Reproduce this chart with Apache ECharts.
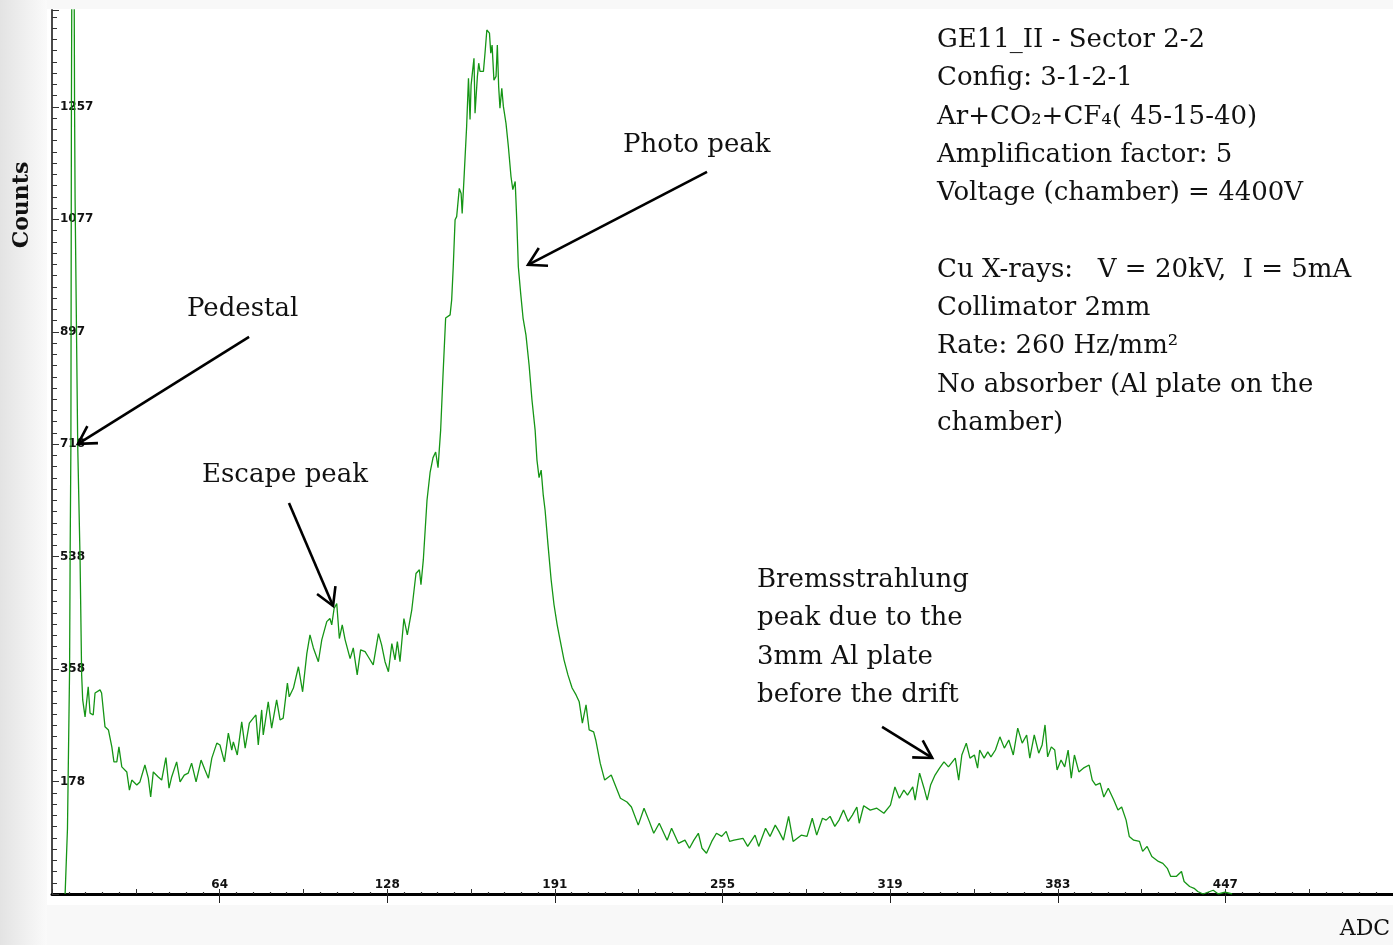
<!DOCTYPE html>
<html>
<head>
<meta charset="utf-8">
<script src="https://cdn.jsdelivr.net/npm/echarts@6/dist/echarts.min.js"></script>
<style>
  html, body { margin: 0; padding: 0; background: #fff; }
  #chart { width: 1393px; height: 945px; }
</style>
</head>
<body>
<div id="chart"></div>
<script>
// ADC spectrum: channel (ADC) and counts
const adc = [
  5.0, 5.9, 6.7, 6.9, 7.2, 7.4, 7.6, 8.4, 8.6, 8.8, 9.8, 10.7, 11.3, 11.7,
  12.6, 13.8, 14.5, 15.7, 16.4, 18.3, 18.9, 20.2, 21.5, 22.8, 23.6, 24.7, 25.5, 26.6, 28.5, 29.5,
  30.4, 32.3, 33.5, 35.4, 36.7, 37.6, 38.6, 40.5, 41.8, 43.4, 44.6, 45.6, 47.5, 48.8, 50.4, 51.9,
  53.2, 54.9, 56.8, 58.3, 59.6, 60.9, 62.8, 64.0, 65.7, 67.2, 68.5, 69.1, 70.6, 72.3, 73.6, 75.2,
  76.7, 77.7, 78.6, 79.9, 80.5, 82.4, 83.7, 85.6, 86.9, 88.1, 89.7, 90.4, 92.0, 93.9, 95.5, 97.1,
  98.3, 99.6, 101.5, 102.8, 104.7, 105.9, 106.6, 107.5, 108.5, 109.5, 110.6, 111.7, 113.6, 114.8,
  116.3, 117.6, 119.3, 120.5, 122.4, 124.4, 125.6, 126.9, 128.2, 129.5, 130.7, 131.6, 132.6, 134.1,
  135.4, 137.1, 138.7, 140.0, 140.6, 141.5,
  142.9, 144.1, 145.2, 146.2, 147.1, 148.1, 149.0, 150.0,
  151.7, 152.3, 152.9, 153.6, 154.2, 155.2, 155.9, 156.3, 156.7, 157.1, 158.0, 158.7, 159.3, 159.7,
  160.3, 160.8, 161.2, 162.1, 162.6, 163.1, 164.4, 165.0, 165.7, 166.7, 167.2, 167.7, 168.4, 169.2,
  169.7, 170.2, 170.7, 171.4, 172.0, 173.0, 173.9, 174.9, 175.6, 176.5, 177.1, 177.7, 178.6, 179.5,
  180.6, 181.8, 182.9, 184.1, 184.8, 185.6, 186.4, 187.2, 187.9, 189.0, 190.2, 191.3, 192.5, 193.6,
  195.1, 196.6, 198.2, 199.7, 200.9,
  202.1, 203.5, 204.7, 206.4, 207.2, 208.9, 210.6, 213.1, 214.9, 216.6, 219.1, 220.8, 223.4, 225.6,
  227.6, 229.3, 231.4, 234.4, 236.1, 238.7, 241.2, 242.9, 244.6, 246.3, 247.7, 249.4, 251.4, 253.2,
  255.2, 256.9, 258.2, 259.9, 263.3, 265.1, 267.9, 269.3, 271.9, 273.6, 275.6, 277.0, 278.7, 280.7,
  282.4, 285.5, 287.7, 289.7, 291.4, 293.6, 295.0, 296.5, 298.3, 299.9, 301.6, 303.4, 305.0, 306.7,
  307.6, 309.3, 311.8, 314.3, 317.0, 319.5, 321.2, 322.9, 324.6, 326.0, 328.0, 328.9, 330.6, 332.3,
  333.5, 334.8, 336.5, 338.2, 339.9, 341.6, 344.2, 345.5, 346.7, 348.4, 349.8, 351.5, 352.7, 353.5,
  355.2, 356.6, 357.8, 359.5, 361.2, 362.9, 364.6, 366.3, 368.0, 369.7, 371.4, 372.6, 374.3, 376.0,
  377.3, 378.4, 379.4, 380.8, 382.1, 383.0, 384.5, 385.9, 387.2, 388.4, 389.6, 391.3, 393.0, 395.2,
  396.4, 397.7, 399.4, 400.8, 402.5, 404.6, 406.2, 407.6, 409.3, 410.5, 412.2, 414.4, 415.6, 417.3,
  419.1, 421.6, 423.3, 425.0, 426.3, 428.4, 430.4, 431.4, 433.5, 435.2, 436.6, 438.6, 442.5, 444.4,
  447.0, 449.7
];
const counts = [
  0, 105, 358, 534, 716, 1257, 1510, 1510, 1257, 1109, 716, 534, 350, 310,
  283, 331, 289, 286, 321, 326, 321, 267, 262, 235, 211, 211, 235, 203, 195, 166,
  182, 174, 179, 206, 185, 155, 195, 187, 182, 218, 169, 187, 211, 179, 190, 193,
  209, 179, 214, 198, 185, 217, 241, 238, 211, 257, 230, 243, 222, 275, 233, 273,
  281, 286, 238, 294, 254, 307, 265, 310, 278, 281, 337, 315, 329, 363, 323, 384,
  414, 393, 371, 406, 435, 440, 430, 456, 464, 408, 430, 406, 376, 393,
  350, 390, 387, 379, 366, 416, 398, 371, 355, 400, 374, 403, 371, 440,
  414, 454, 512, 518, 494, 534,
  629, 674, 697, 706, 681, 741, 829, 920,
  925, 949, 1002, 1077, 1082, 1127, 1119, 1087, 1085, 1151, 1226, 1303, 1237, 1292,
  1316, 1335, 1247, 1306, 1327, 1314, 1314, 1343, 1380, 1375, 1343, 1356, 1300, 1306,
  1356, 1290, 1255, 1287, 1258, 1231, 1194, 1146, 1125, 1138, 1077, 1002, 959, 920,
  893, 845, 789, 741, 693, 665, 677, 637, 613, 558, 502, 462, 430, 406,
  374, 350, 329, 318, 307,
  273, 302, 262, 259, 246, 209, 182, 190, 171, 153, 147, 139, 110, 137,
  116, 97, 113, 86, 105, 81, 86, 73, 86, 97, 73, 65, 84, 97,
  92, 100, 84, 86, 89, 76, 94, 76, 105, 92, 110, 100, 86, 124,
  84, 94, 92, 121, 94, 121, 118, 124, 108, 118, 134, 116, 126, 139,
  113, 141, 134, 137, 129, 142, 171, 153, 166, 158, 171, 150, 193, 169,
  150, 174, 190, 201, 211, 203, 217, 182, 222, 241, 217, 222, 201, 230,
  217, 227, 219, 230, 251, 233, 246, 222, 265, 241, 254, 217, 254, 225,
  238, 270, 219, 235, 230, 198, 214, 203, 230, 185, 222, 195, 201, 206,
  182, 174, 177, 155, 169, 150, 134, 139, 118, 92, 86, 84, 68, 76,
  60, 52, 49, 41, 28, 28, 36, 20, 12, 9, 4, 0, 6, 0,
  3, 0
];

// Axis tick labels (ticks split the 0-511 ADC range into 8, and the counts axis every ~179.6)
const xTickLabels = ['', '64', '128', '191', '255', '319', '383', '447', ''];
const yTickLabels = ['', '178', '358', '538', '718', '897', '1077', '1257', ''];

const X_MAX = 511;
const X_STEP = X_MAX / 8;
const Y_STEP = 179.6;
const Y_MAX = 1412;

const infoLines = [
  'GE11_II - Sector 2-2',
  'Config: 3-1-2-1',
  'Ar+CO\u2082+CF\u2084( 45-15-40)',
  'Amplification factor: 5',
  'Voltage (chamber) = 4400V',
  '',
  'Cu X-rays:   V = 20kV,  I = 5mA',
  'Collimator 2mm',
  'Rate: 260 Hz/mm\u00b2',
  'No absorber (Al plate on the',
  'chamber)'
];
const bremsLines = ['Bremsstrahlung', 'peak due to the', '3mm Al plate', 'before the drift'];

const SERIF = '"DejaVu Serif", "Liberation Serif", serif';
const TICK_FONT = '"DejaVu Sans", "Liberation Sans", Arial, sans-serif';

const chart = echarts.init(document.getElementById('chart'), null, { renderer: 'canvas' });

const seriesData = adc.map((a, i) => [a, counts[i]]);

chart.setOption({
  backgroundColor: '#ffffff',
  animation: false,
  grid: { left: 52, right: 0, top: 10, bottom: 51, containLabel: false },
  xAxis: [
    {
      type: 'value', min: 0, max: X_MAX, interval: X_STEP,
      position: 'bottom', offset: 0,
      axisLine: { show: true, onZero: false, lineStyle: { color: '#000', width: 3 } },
      axisTick: { show: true, inside: false, length: 9, lineStyle: { color: '#222', width: 1 } },
      axisLabel: {
        show: true, inside: true, margin: 3,
        color: '#111', fontFamily: TICK_FONT, fontWeight: 'bold', fontSize: 12,
        showMinLabel: false, showMaxLabel: false,
        formatter: v => xTickLabels[Math.round(v / X_STEP)] || ''
      },
      splitLine: { show: false }
    },
    {
      // ruler-style half ticks and dots hanging under the axis
      type: 'value', min: 0, max: X_MAX, interval: X_STEP / 2,
      position: 'bottom', offset: 9,
      axisLine: { show: false },
      axisTick: { show: true, inside: true, length: 5, lineStyle: { color: '#333', width: 1 } },
      minorTick: { show: true, splitNumber: 5, length: 2, lineStyle: { color: '#333', width: 1.2 } },
      axisLabel: { show: false },
      splitLine: { show: false }
    }
  ],
  yAxis: {
    type: 'value', min: 0, max: Y_MAX, interval: Y_STEP,
    axisLine: { show: true, onZero: false, lineStyle: { color: '#4a4a4a', width: 2 } },
    axisTick: { show: true, inside: true, length: 7, lineStyle: { color: '#333', width: 1 } },
    minorTick: { show: true, splitNumber: 10, length: 5, lineStyle: { color: '#333', width: 1 } },
    axisLabel: {
      show: true, inside: true, margin: 8,
      color: '#111', fontFamily: TICK_FONT, fontWeight: 'bold', fontSize: 12,
      showMinLabel: false, showMaxLabel: false,
      formatter: v => yTickLabels[Math.round(v / Y_STEP)] || ''
    },
    splitLine: { show: false }
  },
  series: [{
    type: 'line',
    data: seriesData,
    showSymbol: false,
    symbol: 'none',
    clip: true,
    lineStyle: { color: '#159515', width: 1.3 },
    z: 3
  }]
});

// Annotation arrows, anchored in data space (ADC, counts): tail -> head
const arrows = [
  { from: [249.6, 1153.5], to: [181.4, 1005] },  // photo peak
  { from: [75.1, 889.9], to: [9.9, 719] },        // pedestal
  { from: [90.3, 624.7], to: [107.1, 460.1] },    // escape peak
  { from: [316.3, 266.8], to: [335.4, 217.3] }    // bremsstrahlung
];

function arrowElements(a) {
  const s = chart.convertToPixel({ gridIndex: 0 }, a.from);
  const t = chart.convertToPixel({ gridIndex: 0 }, a.to);
  const dx = t[0] - s[0], dy = t[1] - s[1];
  const len = Math.hypot(dx, dy);
  const ux = dx / len, uy = dy / len;
  const L = 20, th = Math.PI / 6;
  const arm = sign => {
    const c = Math.cos(sign * th), sn = Math.sin(sign * th);
    const rx = ux * c - uy * sn, ry = ux * sn + uy * c;
    return [t[0] - L * rx, t[1] - L * ry];
  };
  const style = { stroke: '#000', lineWidth: 2.6, fill: null, lineJoin: 'miter' };
  return [
    { type: 'line', shape: { x1: s[0], y1: s[1], x2: t[0], y2: t[1] }, style, z: 20 },
    { type: 'polyline', shape: { points: [arm(1), t, arm(-1)] }, style, z: 20 }
  ];
}

const textStyle = (extra) => Object.assign({ fill: '#111', font: '26px ' + SERIF }, extra);

const elements = [
  // shaded margin strips around the plotting area
  {
    type: 'rect', shape: { x: 0, y: 0, width: 47, height: 945 }, z: 0, silent: true,
    style: {
      fill: new echarts.graphic.LinearGradient(0, 0, 1, 0, [
        { offset: 0, color: '#e3e3e3' }, { offset: 1, color: '#fafafa' }
      ])
    }
  },
  { type: 'rect', shape: { x: 47, y: 905, width: 1346, height: 40 }, z: 0, silent: true, style: { fill: '#f8f8f8' } },
  { type: 'rect', shape: { x: 47, y: 0, width: 1346, height: 9 }, z: 0, silent: true, style: { fill: '#f8f8f8' } },

  // axis titles
  {
    type: 'text', x: 22, y: 205, rotation: Math.PI / 2, z: 20,
    style: { text: 'Counts', fill: '#111', font: 'bold 22px ' + SERIF, align: 'center', verticalAlign: 'middle' }
  },
  {
    type: 'text', x: 1365, y: 929, z: 20,
    style: { text: 'ADC', fill: '#111', font: '22px ' + SERIF, align: 'center', verticalAlign: 'middle' }
  },

  // description block
  {
    type: 'text', x: 937, y: 21, z: 20,
    style: textStyle({ text: infoLines.join('\n'), lineHeight: 38.3, align: 'left', verticalAlign: 'top' })
  },

  // peak labels
  { type: 'text', x: 623, y: 145, z: 20, style: textStyle({ text: 'Photo peak', align: 'left', verticalAlign: 'middle' }) },
  { type: 'text', x: 187, y: 309, z: 20, style: textStyle({ text: 'Pedestal', align: 'left', verticalAlign: 'middle' }) },
  { type: 'text', x: 202, y: 475, z: 20, style: textStyle({ text: 'Escape peak', align: 'left', verticalAlign: 'middle' }) },
  {
    type: 'text', x: 757, y: 561, z: 20,
    style: textStyle({ text: bremsLines.join('\n'), lineHeight: 38.3, align: 'left', verticalAlign: 'top' })
  }
];

arrows.forEach(a => elements.push(...arrowElements(a)));

chart.setOption({ graphic: { elements } });
</script>
</body>
</html>
